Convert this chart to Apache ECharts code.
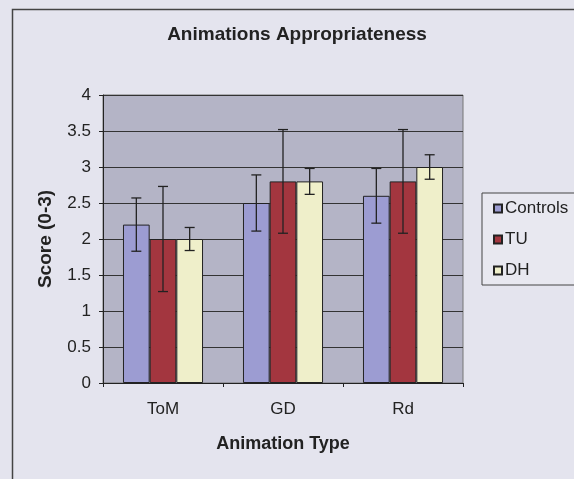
<!DOCTYPE html>
<html>
<head>
<meta charset="utf-8">
<script src="https://cdn.jsdelivr.net/npm/echarts@6/dist/echarts.min.js"></script>
<style>
html,body{margin:0;padding:0;background:#e4e4ee;}
#c{width:574px;height:479px;}
</style>
</head>
<body>
<div id="c"></div>
<script>
var categories = ['ToM', 'GD', 'Rd'];
var seriesNames = ['Controls', 'TU', 'DH'];
var controls = [2.2, 2.5, 2.6];
var tu = [2.0, 2.8, 2.8];
var dh = [2.0, 2.8, 3.0];
var controlsErr = [0.37, 0.39, 0.38];
var tuErr = [0.73, 0.72, 0.72];
var dhErr = [0.16, 0.18, 0.17];
var yTicks = [0, 0.5, 1, 1.5, 2, 2.5, 3, 3.5, 4];

var colors = ['#9c9cd2', '#a3363f', '#efefca'];
var values = [controls, tu, dh];
var errs = [controlsErr, tuErr, dhErr];

var chart = echarts.init(document.getElementById('c'));

function errSeries(k) {
  var data = categories.map(function (c, i) {
    return [i, values[k][i], values[k][i] - errs[k][i], values[k][i] + errs[k][i]];
  });
  return {
    type: 'custom',
    name: seriesNames[k] + ' err',
    z: 10,
    renderItem: function (params, api) {
      var i = api.value(0);
      var band = api.size([1, 0])[0];
      var bw = band * (2 / 3) / 3;
      var c = api.coord([i, api.value(1)]);
      var x = c[0] + (k - 1) * bw;
      var lo = api.coord([i, api.value(2)])[1];
      var hi = api.coord([i, api.value(3)])[1];
      var cap = 5;
      var st = { stroke: '#222', lineWidth: 1.3 };
      return {
        type: 'group',
        children: [
          { type: 'line', shape: { x1: x, y1: lo, x2: x, y2: hi }, style: st },
          { type: 'line', shape: { x1: x - cap, y1: lo, x2: x + cap, y2: lo }, style: st },
          { type: 'line', shape: { x1: x - cap, y1: hi, x2: x + cap, y2: hi }, style: st }
        ]
      };
    },
    encode: { x: 0, y: [1, 2, 3] },
    data: data,
    silent: true
  };
}

var series = [];
for (var k = 0; k < 3; k++) {
  series.push({
    type: 'bar',
    name: seriesNames[k],
    data: values[k],
    barGap: '0%',
    barCategoryGap: '33.3%',
    itemStyle: { color: colors[k], borderColor: '#222', borderWidth: 1 }
  });
}
for (var k2 = 0; k2 < 3; k2++) series.push(errSeries(k2));

chart.setOption({
  animation: false,
  backgroundColor: '#e4e4ee',
  textStyle: { fontFamily: 'Liberation Sans, Arial, sans-serif' },
  title: {
    text: 'Animations Appropriateness',
    left: 292, top: 20, textAlign: 'center',
    textStyle: { fontSize: 19, fontWeight: 'bold', color: '#222' }
  },
  legend: {
    data: seriesNames,
    orient: 'vertical',
    left: 482, top: 193,
    itemWidth: 8, itemHeight: 8, itemGap: 14,
    padding: [7, 30, 6, 11],
    borderColor: '#444', borderWidth: 1,
    backgroundColor: '#e8e8f0',
    icon: 'rect',
    textStyle: { fontSize: 17, color: '#222', padding: [0, 0, 0, -2] }
  },
  grid: { left: 103, right: 111, top: 95, bottom: 96, show: true, backgroundColor: '#b4b4c6', borderColor: '#777', borderWidth: 1 },
  xAxis: {
    type: 'category',
    data: categories,
    name: 'Animation Type',
    nameLocation: 'middle',
    nameGap: 52,
    nameTextStyle: { fontSize: 18, fontWeight: 'bold', color: '#222' },
    axisLine: { lineStyle: { color: '#222' } },
    axisTick: { show: true, length: 4, lineStyle: { color: '#222' } },
    axisLabel: { fontSize: 17, color: '#222', margin: 18 }
  },
  yAxis: {
    type: 'value',
    min: 0, max: 4, interval: 0.5,
    name: 'Score (0-3)',
    nameLocation: 'middle',
    nameGap: 48,
    nameTextStyle: { fontSize: 19, fontWeight: 'bold', color: '#222' },
    axisLine: { show: true, lineStyle: { color: '#222' } },
    axisTick: { show: true, length: 4, lineStyle: { color: '#222' } },
    axisLabel: { fontSize: 17, color: '#222', margin: 12,
      formatter: function (v) { return yTicks.indexOf(v) >= 0 ? String(v) : ''; } },
    splitLine: { lineStyle: { color: '#333', width: 1 } }
  },
  graphic: [{
    type: 'rect', left: 10, top: 7, z: -1,
    shape: { width: 600, height: 500 },
    style: { fill: 'none', stroke: '#444', lineWidth: 1.5 }
  }],
  series: series
});
</script>
</body>
</html>
